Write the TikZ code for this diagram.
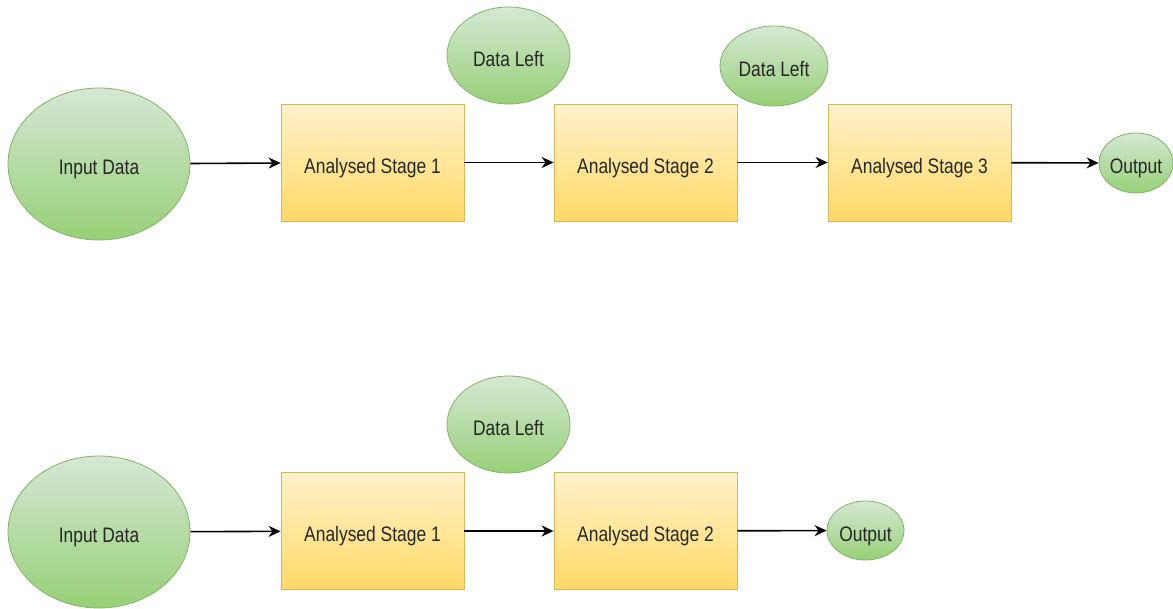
\documentclass[tikz,border=0pt]{standalone}
\usepackage{fontspec}
\setmainfont[FakeStretch=0.83]{Liberation Sans}
\usetikzlibrary{shapes.geometric, arrows.meta}
\definecolor{stagetop}{HTML}{FFF2CC}
\definecolor{stagebot}{HTML}{FFD966}
\definecolor{stageline}{HTML}{D6B656}
\definecolor{datumtop}{HTML}{D5E8D4}
\definecolor{datumbot}{HTML}{97D077}
\definecolor{datumline}{HTML}{82B366}
\tikzset{%
    % Yellow process boxes
    stage/.style  = {draw=stageline, line width=0.8pt, rectangle,
    top color=stagetop, bottom color=stagebot,
    minimum width=183pt, minimum height=117pt, inner sep=0pt},
    % Green data ellipses
    datum/.style  = {draw=datumline, line width=0.8pt, ellipse,
    top color=datumtop, bottom color=datumbot, inner sep=0pt},
    % Connectors
    link/.style   = {line width=1.6pt, -{Stealth[length=12pt,width=11pt]}},
    every node/.style = {font=\fontsize{21}{25}\selectfont, text=black!85,
    text height=21pt, text depth=0pt}
}
\begin{document}
\begin{tikzpicture}[x=1pt, y=-1pt]
	\useasboundingbox (0,0) rectangle (1173,608);
	% first run: three stages
	\node[datum, minimum width=182pt, minimum height=152pt] (inA) at (99,164) {Input Data};
	\node[stage] (sA1) at (372.5,162.5) {Analysed Stage 1};
	\node[stage] (sA2) at (645.5,162.5) {Analysed Stage 2};
	\node[stage] (sA3) at (919.5,162.5) {Analysed Stage 3};
	\node[datum, minimum width=74pt, minimum height=60pt] (outA) at (1136,163) {Output};
	\node[datum, minimum width=123pt, minimum height=97pt] (leftA1) at (508.5,55.5) {Data Left};
	\node[datum, minimum width=108pt, minimum height=80pt] (leftA2) at (774,66) {Data Left};
	\draw[link] (inA) -- (sA1);
	\draw[link] (sA1) -- (sA2);
	\draw[link] (sA2) -- (sA3);
	\draw[link] (sA3) -- (outA);

	% second run: two stages
	\node[datum, minimum width=182pt, minimum height=152pt] (inB) at (99,532) {Input Data};
	\node[stage] (sB1) at (372.5,531) {Analysed Stage 1};
	\node[stage] (sB2) at (645.5,531) {Analysed Stage 2};
	\node[datum, minimum width=77pt, minimum height=59pt] (outB) at (865.5,530.5) {Output};
	\node[datum, minimum width=123pt, minimum height=97pt] (leftB1) at (508.5,424.5) {Data Left};
	\draw[link] (inB) -- (sB1);
	\draw[link] (sB1) -- (sB2);
	\draw[link] (sB2) -- (outB);
\end{tikzpicture}
\end{document}
